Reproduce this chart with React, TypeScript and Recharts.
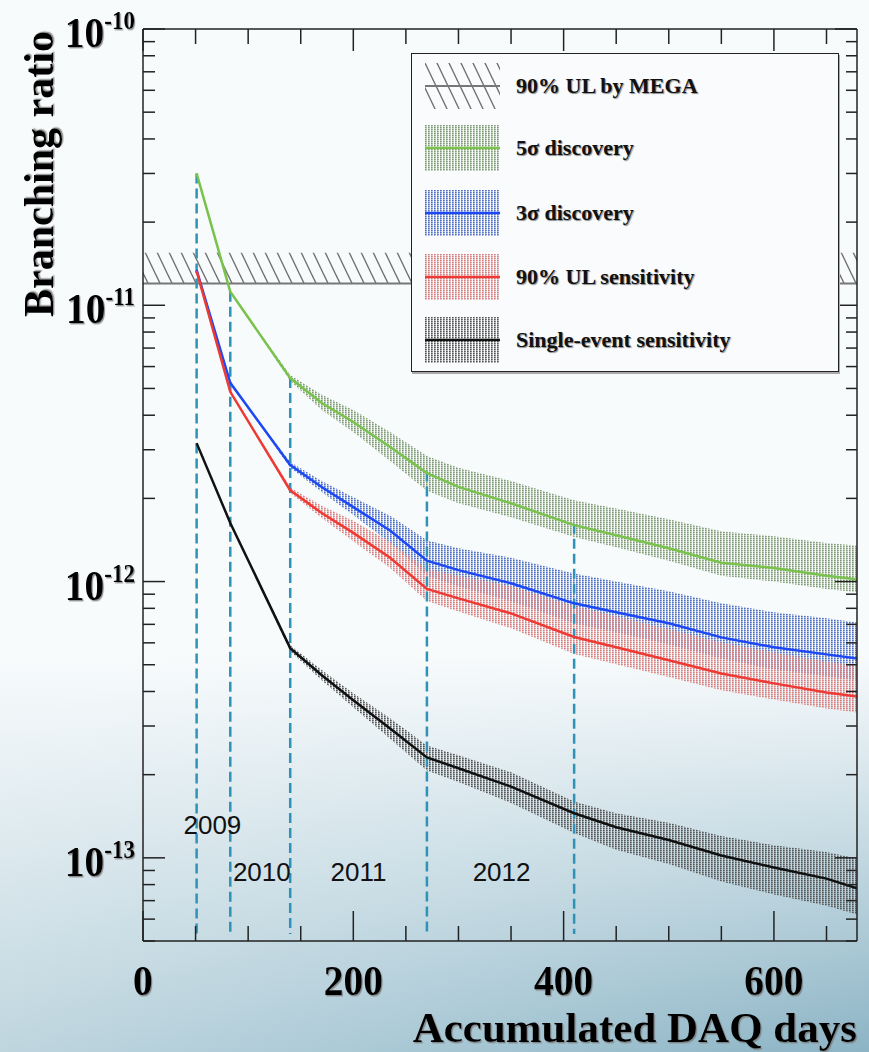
import React from "react"
import {
  Area,
  ComposedChart,
  Label,
  Legend,
  Line,
  ReferenceArea,
  ReferenceDot,
  ReferenceLine,
  XAxis,
  YAxis,
} from "recharts"

// accumulated DAQ days
const days = [51, 83, 140, 170, 200, 235, 270, 300, 350, 410, 450, 500, 550, 600, 650, 679]

// 5 sigma discovery
const discovery5 = [3.0e-11, 1.12e-11, 5.45e-12, 4.43e-12, 3.78e-12, 3.07e-12, 2.47e-12, 2.2e-12, 1.92e-12, 1.6e-12, 1.47e-12, 1.32e-12, 1.17e-12, 1.12e-12, 1.05e-12, 1.02e-12]
const discovery5Lo = [3.0e-11, 1.12e-11, 5.32e-12, 4.18e-12, 3.48e-12, 2.73e-12, 2.13e-12, 1.92e-12, 1.71e-12, 1.45e-12, 1.33e-12, 1.19e-12, 1.05e-12, 1.0e-12, 0.94e-12, 0.915e-12]
const discovery5Hi = [3.0e-11, 1.12e-11, 5.59e-12, 4.74e-12, 4.18e-12, 3.48e-12, 2.85e-12, 2.58e-12, 2.31e-12, 1.97e-12, 1.84e-12, 1.68e-12, 1.52e-12, 1.46e-12, 1.38e-12, 1.35e-12]

// 3 sigma discovery
const discovery3 = [1.34e-11, 5.24e-12, 2.64e-12, 2.2e-12, 1.86e-12, 1.53e-12, 1.19e-12, 1.1e-12, 9.86e-13, 8.34e-13, 7.74e-13, 7.06e-13, 6.28e-13, 5.78e-13, 5.45e-13, 5.27e-13]
const discovery3Lo = [1.34e-11, 5.24e-12, 2.58e-12, 2.11e-12, 1.74e-12, 1.38e-12, 1.05e-12, 9.62e-13, 8.49e-13, 7.06e-13, 6.55e-13, 5.93e-13, 5.27e-13, 4.81e-13, 4.54e-13, 4.39e-13]
const discovery3Hi = [1.34e-11, 5.24e-12, 2.71e-12, 2.31e-12, 2.02e-12, 1.73e-12, 1.41e-12, 1.32e-12, 1.22e-12, 1.07e-12, 1.0e-12, 9.22e-13, 8.34e-13, 7.74e-13, 7.36e-13, 7.11e-13]

// 90% UL sensitivity
const ulSens = [1.33e-11, 4.86e-12, 2.14e-12, 1.77e-12, 1.5e-12, 1.22e-12, 9.4e-13, 8.69e-13, 7.67e-13, 6.3e-13, 5.78e-13, 5.19e-13, 4.65e-13, 4.28e-13, 3.97e-13, 3.84e-13]
const ulSensLo = [1.33e-11, 4.86e-12, 2.09e-12, 1.7e-12, 1.4e-12, 1.12e-12, 8.51e-13, 7.79e-13, 6.77e-13, 5.47e-13, 5.02e-13, 4.51e-13, 4.04e-13, 3.74e-13, 3.47e-13, 3.36e-13]
const ulSensHi = [1.33e-11, 4.86e-12, 2.19e-12, 1.88e-12, 1.66e-12, 1.39e-12, 1.11e-12, 1.05e-12, 9.61e-13, 8.16e-13, 7.49e-13, 6.72e-13, 6.02e-13, 5.54e-13, 5.14e-13, 4.97e-13]

// single-event sensitivity
const singleEvent = [3.17e-12, 1.63e-12, 5.74e-13, 4.58e-13, 3.72e-13, 2.94e-13, 2.31e-13, 2.11e-13, 1.81e-13, 1.45e-13, 1.29e-13, 1.16e-13, 1.02e-13, 9.23e-14, 8.41e-14, 7.75e-14]
const singleEventLo = [3.17e-12, 1.63e-12, 5.6e-13, 4.39e-13, 3.51e-13, 2.7e-13, 2.07e-13, 1.88e-13, 1.58e-13, 1.23e-13, 1.07e-13, 9.49e-14, 8.21e-14, 7.37e-14, 6.71e-14, 6.24e-14]
const singleEventHi = [3.17e-12, 1.63e-12, 5.88e-13, 4.78e-13, 3.94e-13, 3.2e-13, 2.55e-13, 2.35e-13, 2.04e-13, 1.6e-13, 1.45e-13, 1.34e-13, 1.2e-13, 1.11e-13, 1.05e-13, 9.95e-14]

// MEGA 90% upper limit (hatched band above it)
const megaLimit = 1.2e-11
const megaHatchTop = 1.55e-11

// dashed year boundaries
const boundaryDays = [51, 83, 140, 270, 410]
const boundaryTop = [3.0e-11, 1.12e-11, 5.45e-12, 2.5e-12, 1.62e-12]
const boundaryBottom = 5.3e-14

const years = ["2009", "2010", "2011", "2012"]
const yearDays = [66, 113, 205, 341]
const yearValues = [1.32e-13, 8.9e-14, 8.9e-14, 8.9e-14]

const legendNames = ["90% UL by MEGA", "5σ discovery", "3σ discovery", "90% UL sensitivity", "Single-event sensitivity"]

const xTicks = [0, 50, 100, 150, 200, 250, 300, 350, 400, 450, 500, 550, 600, 650]
const xTickLabels = ["0", "200", "400", "600"]
const xLabelValues = [0, 200, 400, 600]
const yExponents = ["-10", "-11", "-12", "-13"]
const yMajor = [1e-10, 1e-11, 1e-12, 1e-13]

const yTicks: number[] = []
for (let e = -14; e <= -11; e++) {
  for (let m = 1; m <= 9; m++) {
    const v = Number(`${m}e${e}`)
    if (v >= 5e-14) yTicks.push(v)
  }
}
yTicks.push(1e-10)

const X_MAX = 679
const Y_DOMAIN = [5e-14, 1e-10]

const data = days.map((d, i) => ({
  day: d,
  g: discovery5[i],
  gBand: [discovery5Lo[i], discovery5Hi[i]],
  b: discovery3[i],
  bBand: [discovery3Lo[i], discovery3Hi[i]],
  r: ulSens[i],
  rBand: [ulSensLo[i], ulSensHi[i]],
  k: singleEvent[i],
  kBand: [singleEventLo[i], singleEventHi[i]],
}))

const FRAME = "#222"
const SERIF = "'Liberation Serif', 'Times New Roman', serif"
const colors = {
  green: "#79c24b",
  blue: "#1d48f4",
  red: "#ee3a34",
  black: "#111",
  dash: "#2f93b7",
}

const isMajorY = (v: number) => Math.abs(Math.log10(v) - Math.round(Math.log10(v))) < 1e-6

const BottomTick = (props: any) => {
  const { x, y, payload } = props
  const v = payload.value
  const idx = xLabelValues.indexOf(v)
  const major = idx >= 0
  return (
    <g>
      <line x1={x} x2={x} y1={y} y2={y - (major ? 30 : 15)} stroke={FRAME} strokeWidth={1.5} />
      {major && (
        <text
          transform={`translate(${x}, ${y + 54}) scale(0.92, 1)`}
          textAnchor="middle"
          fontFamily={SERIF}
          fontWeight="bold"
          fontSize={43}
          fill="#000"
          filter="url(#tshadow)"
        >
          {xTickLabels[idx]}
        </text>
      )}
    </g>
  )
}

const TopTick = (props: any) => {
  const { x, y, payload } = props
  const major = payload.value % 200 === 0
  return <line x1={x} x2={x} y1={y} y2={y + (major ? 22 : 15)} stroke={FRAME} strokeWidth={1.5} />
}

const LeftTick = (props: any) => {
  const { x, y, payload } = props
  const v = payload.value
  const major = isMajorY(v)
  const idx = yMajor.findIndex((m) => Math.abs(m - v) / m < 1e-6)
  return (
    <g>
      <line x1={x} x2={x + (major ? 22 : 12)} y1={y} y2={y} stroke={FRAME} strokeWidth={1.5} />
      {idx >= 0 && (
        <text
          transform={`translate(${x - 8}, ${y + 18}) scale(0.92, 1)`}
          textAnchor="end"
          fontFamily={SERIF}
          fontWeight="bold"
          fill="#000"
          filter="url(#tshadow)"
        >
          <tspan fontSize={43}>10</tspan>
          <tspan fontSize={25} dy={-18}>
            {yExponents[idx]}
          </tspan>
        </text>
      )}
    </g>
  )
}

const RightTick = (props: any) => {
  const { x, y, payload } = props
  const major = isMajorY(payload.value)
  return <line x1={x} x2={x - (major ? 22 : 11)} y1={y} y2={y} stroke={FRAME} strokeWidth={1.5} />
}

const Swatch = ({ i }: { i: number }) => {
  if (i === 0) {
    return (
      <svg width={75} height={46}>
        <rect x={0} y={0} width={75} height={46} fill="url(#hatch)" />
        <line x1={0} x2={75} y1={23} y2={23} stroke="#777" strokeWidth={2} />
      </svg>
    )
  }
  const fills = ["", "url(#dotGreen)", "url(#dotBlue)", "url(#dotRed)", "url(#dotBlack)"]
  const lines = ["", colors.green, colors.blue, colors.red, colors.black]
  return (
    <svg width={75} height={46}>
      <rect x={0} y={0} width={75} height={46} fill={fills[i]} />
      <line x1={0} x2={75} y1={23} y2={23} stroke={lines[i]} strokeWidth={2.5} />
    </svg>
  )
}

const rowCenters = [32, 94, 159, 223, 286]

const LegendBox = () => (
  <div
    style={{
      position: "relative",
      width: 428,
      height: 319,
      boxSizing: "border-box",
      border: `1.5px solid ${FRAME}`,
      background: "#f9fbfc",
      boxShadow: "1px 2px 0 #aaa",
    }}
  >
    {legendNames.map((name, i) => (
      <div
        key={name}
        style={{
          position: "absolute",
          left: 13,
          top: rowCenters[i] - 23,
          height: 46,
          display: "flex",
          alignItems: "center",
        }}
      >
        <Swatch i={i} />
        <span
          style={{
            marginLeft: 16,
            fontFamily: SERIF,
            fontWeight: "bold",
            fontSize: 22,
            color: "#111",
            whiteSpace: "nowrap",
            textShadow: "1px 1px 1px rgba(0,0,0,0.45)",
          }}
        >
          {name}
        </span>
      </div>
    ))}
  </div>
)

const DotPattern = ({ id, color }: { id: string; color: string }) => (
  <pattern id={id} patternUnits="userSpaceOnUse" width={3} height={2}>
    <rect x={0} y={0} width={1.6} height={2} fill={color} opacity={0.5} />
    <rect x={0} y={0} width={1.6} height={1} fill={color} />
  </pattern>
)

export default function App() {
  return (
    <div
      style={{
        position: "absolute",
        left: 0,
        top: 0,
        width: 869,
        height: 1052,
        overflow: "hidden",
        background:
          "linear-gradient(to bottom, rgba(248,251,252,1) 0%, rgba(248,251,252,1) 62%, rgba(248,251,252,0) 100%), linear-gradient(100deg, #c9dce3 0%, #a9c8d5 55%, #8cb4c5 100%)",
      }}
    >
      <svg width={0} height={0} style={{ position: "absolute" }}>
        <defs>
          <pattern id="hatch" patternUnits="userSpaceOnUse" width={12} height={25}>
            <line x1={-12} y1={-25} x2={24} y2={50} stroke="#6f6f6f" strokeWidth={1.4} />
            <line x1={0} y1={-25} x2={36} y2={50} stroke="#6f6f6f" strokeWidth={1.4} />
            <line x1={-24} y1={-25} x2={12} y2={50} stroke="#6f6f6f" strokeWidth={1.4} />
          </pattern>
          <DotPattern id="dotGreen" color="#7f9b74" />
          <DotPattern id="dotBlue" color="#4f6fc6" />
          <DotPattern id="dotRed" color="#d97c7c" />
          <DotPattern id="dotBlack" color="#555" />
          <filter id="tshadow" x="-10%" y="-10%" width="130%" height="140%">
            <feDropShadow dx={1.2} dy={1.4} stdDeviation={0.7} floodColor="#777" floodOpacity={0.8} />
          </filter>
        </defs>
      </svg>
      <ComposedChart width={869} height={1052} data={data} margin={{ top: 0, right: 0, bottom: 0, left: 0 }}>
        <XAxis
          dataKey="day"
          type="number"
          domain={[0, X_MAX]}
          allowDataOverflow
          ticks={xTicks}
          interval={0}
          tick={<BottomTick />}
          tickSize={0}
          tickMargin={0}
          tickLine={false}
          axisLine={{ stroke: FRAME, strokeWidth: 1.5 }}
          height={111}
        >
          <Label
            content={(p: any) => {
              const vb = p.viewBox
              return (
                <text
                  x={vb.x + vb.width}
                  y={1042}
                  textAnchor="end"
                  fontFamily={SERIF}
                  fontWeight="bold"
                  fontSize={43}
                  fill="#000"
                  filter="url(#tshadow)"
                >
                  Accumulated DAQ days
                </text>
              )
            }}
          />
        </XAxis>
        <XAxis
          xAxisId="top"
          orientation="top"
          dataKey="day"
          type="number"
          domain={[0, X_MAX]}
          allowDataOverflow
          ticks={xTicks}
          interval={0}
          tick={<TopTick />}
          tickSize={0}
          tickMargin={0}
          tickLine={false}
          axisLine={{ stroke: FRAME, strokeWidth: 1.5 }}
          height={29}
        />
        <YAxis
          type="number"
          scale="log"
          domain={Y_DOMAIN}
          allowDataOverflow
          ticks={yTicks}
          interval={0}
          tick={<LeftTick />}
          tickSize={0}
          tickMargin={0}
          tickLine={false}
          axisLine={{ stroke: FRAME, strokeWidth: 1.5 }}
          width={143}
        >
          <Label
            content={() => (
              <text
                x={53}
                y={174}
                textAnchor="middle"
                transform="rotate(-90, 53, 174)"
                fontFamily={SERIF}
                fontWeight="bold"
                fontSize={42}
                fill="#000"
                filter="url(#tshadow)"
              >
                Branching ratio
              </text>
            )}
          />
        </YAxis>
        <YAxis
          yAxisId="right"
          orientation="right"
          type="number"
          scale="log"
          domain={Y_DOMAIN}
          allowDataOverflow
          ticks={yTicks}
          interval={0}
          tick={<RightTick />}
          tickSize={0}
          tickMargin={0}
          tickLine={false}
          axisLine={{ stroke: FRAME, strokeWidth: 1.5 }}
          width={12}
        />

        <ReferenceArea x1={0} x2={X_MAX} y1={megaLimit} y2={megaHatchTop} fill="url(#hatch)" fillOpacity={1} stroke="none" />
        <ReferenceLine y={megaLimit} stroke="#777" strokeWidth={2} />

        <Area dataKey="gBand" fill="url(#dotGreen)" fillOpacity={1} stroke="none" isAnimationActive={false} />
        <Area dataKey="bBand" fill="url(#dotBlue)" fillOpacity={1} stroke="none" isAnimationActive={false} />
        <Area dataKey="rBand" fill="url(#dotRed)" fillOpacity={1} stroke="none" isAnimationActive={false} />
        <Area dataKey="kBand" fill="url(#dotBlack)" fillOpacity={1} stroke="none" isAnimationActive={false} />

        {boundaryDays.map((d, i) => (
          <ReferenceLine
            key={d}
            segment={[
              { x: d, y: boundaryTop[i] },
              { x: d, y: boundaryBottom },
            ]}
            stroke={colors.dash}
            strokeWidth={2.5}
            strokeDasharray="10 5"
          />
        ))}

        <Line dataKey="g" stroke={colors.green} strokeWidth={2.5} dot={false} isAnimationActive={false} />
        <Line dataKey="b" stroke={colors.blue} strokeWidth={2.5} dot={false} isAnimationActive={false} />
        <Line dataKey="r" stroke={colors.red} strokeWidth={2.5} dot={false} isAnimationActive={false} />
        <Line dataKey="k" stroke={colors.black} strokeWidth={2.5} dot={false} isAnimationActive={false} />

        {years.map((y, i) => (
          <ReferenceDot
            key={y}
            x={yearDays[i]}
            y={yearValues[i]}
            r={0}
            fill="none"
            stroke="none"
            label={{
              value: y,
              position: "center",
              fontFamily: "'Liberation Sans', Arial, sans-serif",
              fontSize: 26,
              fill: "#111",
            }}
          />
        ))}

        <Legend
          layout="horizontal"
          verticalAlign="middle"
          align="center"
          width={428}
          height={319}
          wrapperStyle={{ left: 411, top: 53, width: 428, height: 319 }}
          content={() => <LegendBox />}
        />
      </ComposedChart>
    </div>
  )
}
